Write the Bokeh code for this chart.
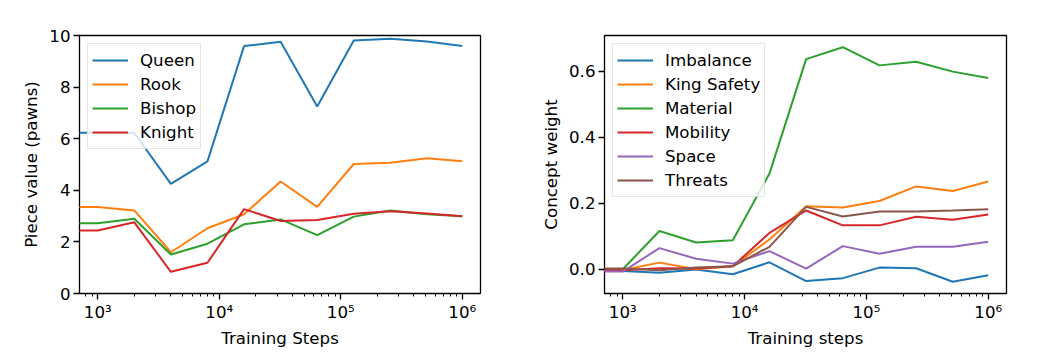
from bokeh.plotting import figure
from bokeh.layouts import row
from bokeh.models import Range1d, FixedTicker, CustomJSTickFormatter, PrintfTickFormatter
from bokeh.embed import file_html
from bokeh.resources import INLINE
import math

# ---------------- data ----------------
steps = [0, 1000, 2000, 4000, 8000, 16000, 32000, 64000, 128000, 256000, 512000, 1000000]

# left panel: piece values (pawns)
queen  = [6.23, 6.23, 6.22, 4.25, 5.12, 9.59, 9.76, 7.25, 9.81, 9.87, 9.77, 9.59]
rook   = [3.35, 3.35, 3.22, 1.60, 2.53, 3.07, 4.34, 3.36, 5.02, 5.07, 5.24, 5.13]
bishop = [2.72, 2.72, 2.90, 1.51, 1.93, 2.68, 2.87, 2.26, 2.98, 3.22, 3.07, 2.99]
knight = [2.44, 2.44, 2.76, 0.84, 1.19, 3.27, 2.81, 2.85, 3.09, 3.19, 3.10, 2.99]

# right panel: concept weights
imbalance   = [-0.005, -0.005, -0.011, -0.001, -0.015, 0.021, -0.036, -0.027, 0.005, 0.003, -0.038, -0.018]
king_safety = [-0.002, -0.002, 0.020, 0.000, 0.009, 0.090, 0.191, 0.187, 0.207, 0.251, 0.237, 0.266]
material    = [0.000, 0.000, 0.116, 0.081, 0.088, 0.290, 0.637, 0.673, 0.618, 0.629, 0.599, 0.580]
mobility    = [-0.003, -0.003, 0.003, 0.002, 0.009, 0.110, 0.178, 0.133, 0.133, 0.159, 0.150, 0.166]
space       = [-0.007, -0.007, 0.064, 0.032, 0.017, 0.055, 0.002, 0.070, 0.047, 0.068, 0.068, 0.083]
threats     = [0.002, 0.002, -0.003, 0.005, 0.009, 0.068, 0.189, 0.160, 0.175, 0.175, 0.178, 0.182]

left_series = [("Queen", queen), ("Rook", rook), ("Bishop", bishop), ("Knight", knight)]
right_series = [("Imbalance", imbalance), ("King Safety", king_safety), ("Material", material),
                ("Mobility", mobility), ("Space", space), ("Threats", threats)]

colors = ["#1f77b4", "#ff7f0e", "#2ca02c", "#d62728", "#9467bd", "#8c564b"]

FONT = "DejaVu Sans"
FS = "12.5pt"

# step 0 cannot sit on a log axis: clip it far to the left, as matplotlib does
xs = [s if s > 0 else 1e-3 for s in steps]
pos = [s for s in steps if s > 0]
lo, hi = math.log10(min(pos)), math.log10(max(pos))
m = 0.05 * (hi - lo)
x_range_vals = (10 ** (lo - m), 10 ** (hi + m))

major = [10 ** k for k in range(3, 7)]
minor = [j * 10 ** k for k in range(2, 7) for j in range(2, 10)]

sup_fmt = CustomJSTickFormatter(code="""
const sup = {'0':'\u2070','1':'\u00b9','2':'\u00b2','3':'\u00b3','4':'\u2074','5':'\u2075','6':'\u2076','7':'\u2077','8':'\u2078','9':'\u2079'};
const e = String(Math.round(Math.log10(tick)));
return '10' + e.split('').map(c => sup[c]).join('');
""")


def make(series, ylabel, xlabel, y_range, left_border, right_border, yticks, yfmt):
    p = figure(width=520, height=350, x_axis_type="log",
               x_range=Range1d(*x_range_vals), y_range=y_range,
               output_backend="svg", toolbar_location=None,
               min_border_left=left_border, min_border_right=right_border,
               min_border_top=35, min_border_bottom=54)
    for (name, vals), c in zip(series, colors):
        p.line(xs, vals, line_color=c, line_width=2, legend_label=name)

    p.xgrid.visible = False
    p.ygrid.visible = False
    p.outline_line_color = "black"
    p.outline_line_width = 1.3
    p.background_fill_color = "white"
    p.border_fill_color = "white"

    xa = p.xaxis[0]
    xa.ticker = FixedTicker(ticks=major, minor_ticks=minor)
    xa.formatter = sup_fmt
    ya = p.yaxis[0]
    ya.ticker = FixedTicker(ticks=yticks)
    if yfmt is not None:
        ya.formatter = yfmt
    for ax in (xa, ya):
        ax.axis_line_color = None
        ax.major_tick_in = 0
        ax.major_tick_out = 6
        ax.major_tick_line_color = "black"
        ax.major_tick_line_width = 1.3
        ax.minor_tick_in = 0
        ax.minor_tick_out = 3
        ax.minor_tick_line_color = "black"
        ax.minor_tick_line_width = 1
        ax.major_label_text_font = FONT
        ax.major_label_text_font_size = FS
        ax.major_label_text_color = "black"
        ax.axis_label_text_font = FONT
        ax.axis_label_text_font_size = FS
        ax.axis_label_text_font_style = "normal"
        ax.axis_label_text_color = "black"
    ya.minor_tick_line_color = None
    xa.major_label_standoff = 3
    ya.major_label_standoff = 3
    xa.axis_label_standoff = 4
    ya.axis_label_standoff = 5
    xa.axis_label = xlabel
    ya.axis_label = ylabel

    lg = p.legend[0]
    lg.location = "top_left"
    lg.margin = 8
    lg.padding = 4
    lg.spacing = 0
    lg.glyph_width = 36
    lg.glyph_height = 24
    lg.label_height = 24
    lg.label_standoff = 12
    lg.label_text_font = FONT
    lg.label_text_font_size = FS
    lg.label_text_color = "black"
    lg.border_line_color = "#cccccc"
    lg.background_fill_color = "white"
    lg.background_fill_alpha = 0.8
    return p


p1 = make(left_series, "Piece value (pawns)", "Training Steps", Range1d(0, 10), 79, 40,
          [0, 2, 4, 6, 8, 10], None)

allv = [v for _, s in right_series for v in s]
rlo, rhi = min(allv), max(allv)
rm = 0.05 * (rhi - rlo)
p2 = make(right_series, "Concept weight", "Training steps", Range1d(rlo - rm, rhi + rm), 84, 34,
          [0.0, 0.2, 0.4, 0.6], PrintfTickFormatter(format="%.1f"))

layout = row(p1, p2)
open("out.html", "w").write(file_html(layout, INLINE))
